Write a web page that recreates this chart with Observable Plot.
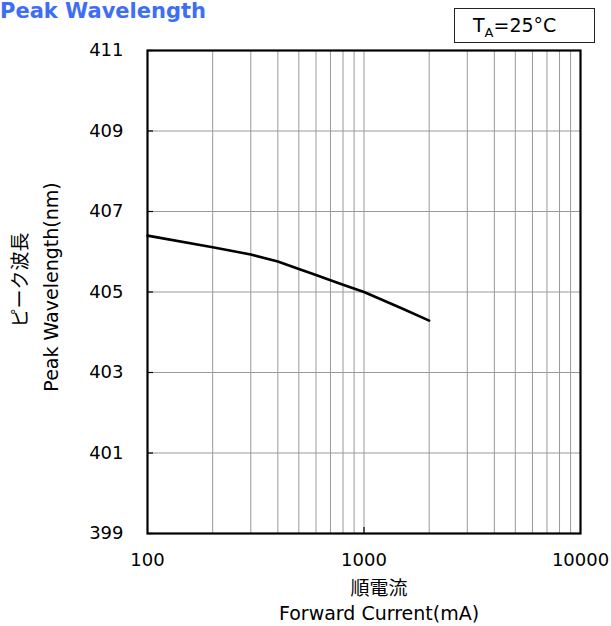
<!DOCTYPE html>
<html><head><meta charset="utf-8">
<script src="https://cdn.jsdelivr.net/npm/d3@7"></script>
<script src="https://cdn.jsdelivr.net/npm/@observablehq/plot@0.6"></script>
<style>
body{margin:0;background:#fff;font-family:"DejaVu Sans","Noto Sans CJK JP",sans-serif;}
#wrap{position:relative;width:611px;height:626px;}
#title{position:absolute;left:0;top:1px;font-size:21px;font-weight:bold;color:#3d6ef5;line-height:1;white-space:nowrap;}
#legend{position:absolute;left:454px;top:8px;width:141px;height:35px;border:1px solid #222;box-sizing:border-box;background:#fff;}
#legend span.t{position:absolute;left:18px;top:7px;font-size:19px;line-height:1;color:#000;white-space:nowrap;}
#legend sub{font-size:13px;vertical-align:-5px;line-height:0;}
</style></head>
<body>
<div id="wrap">
<div id="chart"></div>
<div id="title">Peak Wavelength</div>
<div id="legend"><span class="t">T<sub>A</sub>=25°C</span></div>
</div>
<script>
const current = [100, 200, 300, 400, 500, 600, 700, 800, 1000, 1500, 2000];
const wavelength = [406.40, 406.11, 405.93, 405.76, 405.57, 405.42, 405.29, 405.18, 405.00, 404.59, 404.29];
const xTicks = [100, 1000, 10000];
const xGrid = [200,300,400,500,600,700,800,900,1000,2000,3000,4000,5000,6000,7000,8000,9000];
const yTicks = [399, 401, 403, 405, 407, 409, 411];
const yGrid = [401, 403, 405, 407, 409];
const yLabelJa = "ピーク波長";
const yLabelEn = "Peak Wavelength(nm)";
const xLabelJa = "順電流";
const xLabelEn = "Forward Current(mA)";

const data = current.map((c, i) => ({c, w: wavelength[i]}));
const font = "DejaVu Sans, Noto Sans CJK JP, sans-serif";

const chart = Plot.plot({
  width: 611,
  height: 626,
  marginTop: 50,
  marginBottom: 93,
  marginLeft: 147,
  marginRight: 31,
  style: {fontFamily: font, fontSize: "18px", color: "#000", background: "#fff"},
  x: {type: "log", domain: [100, 10000]},
  y: {domain: [399, 411]},
  marks: [
    Plot.ruleX(xGrid, {stroke: "#999", strokeWidth: 1}),
    Plot.ruleY(yGrid, {stroke: "#999", strokeWidth: 1}),
    Plot.axisY(yTicks, {anchor: "left", tickSize: 0, tickPadding: 24, label: null, fontSize: 18}),
    Plot.axisY(yTicks, {anchor: "left", tickSize: -6, text: null, label: null, strokeWidth: 1.2}),
    Plot.axisX(xTicks, {anchor: "bottom", tickSize: 0, tickPadding: 20, label: null, fontSize: 18, tickFormat: d => String(d)}),
    Plot.axisX([1000], {anchor: "bottom", tickSize: -6, text: null, label: null, strokeWidth: 1.2}),
    Plot.frame({stroke: "#000", strokeWidth: 2.2}),
    Plot.line(data, {x: "c", y: "w", stroke: "#000", strokeWidth: 2.6, strokeLinejoin: "round"}),
    Plot.text([yLabelJa], {frameAnchor: "left", textAnchor: "middle", lineAnchor: "middle", rotate: -90, dx: -127, dy: -12, fontSize: 19, fill: "#000"}),
    Plot.text([yLabelEn], {frameAnchor: "left", textAnchor: "middle", lineAnchor: "middle", rotate: -90, dx: -96, dy: -5, fontSize: 19, fill: "#000"}),
    Plot.text([xLabelJa], {frameAnchor: "bottom", textAnchor: "middle", lineAnchor: "middle", dx: 15, dy: 55, fontSize: 19, fill: "#000"}),
    Plot.text([xLabelEn], {frameAnchor: "bottom", textAnchor: "middle", lineAnchor: "middle", dx: 15, dy: 80, fontSize: 19, fill: "#000"})
  ]
});
document.getElementById("chart").appendChild(chart);
</script>
</body></html>
